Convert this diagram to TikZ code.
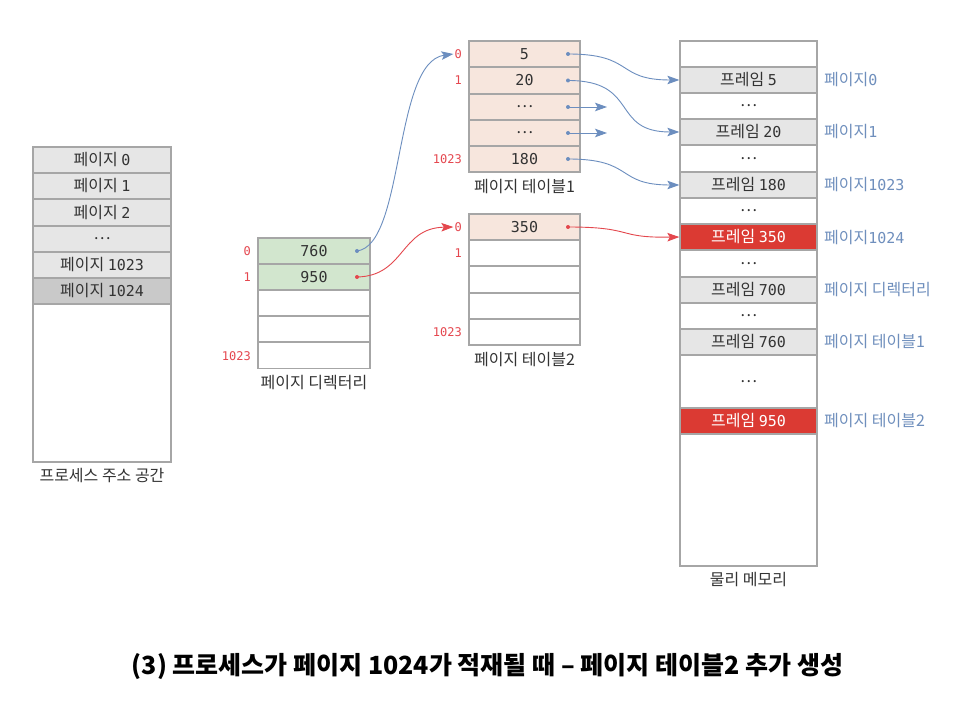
\documentclass[tikz,border=0pt]{standalone}
\usepackage{fontspec}
\setmainfont{Noto Sans CJK KR}
\newfontfamily\monofont{DejaVu Sans Mono}
\newcommand\dg[1]{{\monofont\fontsize{15}{17}\selectfont #1}}
\usetikzlibrary{arrows.meta}
\definecolor{bd}{HTML}{A6A6A6}
\definecolor{gfill}{HTML}{E6E6E6}
\definecolor{dgfill}{HTML}{C9C9C9}
\definecolor{grfill}{HTML}{D2E6CE}
\definecolor{pkfill}{HTML}{F7E6DD}
\definecolor{rdfill}{HTML}{DB3A33}
\definecolor{txt}{HTML}{333333}
\definecolor{bluearr}{HTML}{6C8EBF}
\definecolor{redarr}{HTML}{E4474D}
\definecolor{idxred}{HTML}{E5474F}
\definecolor{lblblue}{HTML}{6F8FBD}
\tikzset{
  cell/.style={draw=bd, line width=1.3pt, minimum height=26pt, inner sep=0pt, text=txt, font=\fontsize{16}{18}\selectfont},
  frame/.style={draw=bd, line width=1.3pt, inner sep=0pt},
  gcell/.style={cell, fill=gfill},
  dcell/.style={cell, fill=dgfill},
  grcell/.style={cell, fill=grfill, minimum width=112pt},
  pkcell/.style={cell, fill=pkfill, minimum width=111pt},
  wcell/.style={cell, fill=white},
  rcell/.style={cell, fill=rdfill, text=white},
  idx/.style={text=idxred, font=\monofont\fontsize{12}{14}\selectfont, inner sep=1pt, anchor=east},
  caption/.style={text=txt, font=\fontsize{16}{18}\selectfont, inner sep=0pt},
  side/.style={text=lblblue, font=\fontsize{16}{18}\selectfont, inner sep=0pt, anchor=west},
  barrow/.style={draw=bluearr, line width=0.9pt, -{Stealth[length=12pt,width=8.5pt,inset=2.5pt]}},
  rarrow/.style={draw=redarr, line width=0.9pt, -{Stealth[length=12pt,width=8.5pt,inset=2.5pt]}},
}
\begin{document}
\begin{tikzpicture}[x=1pt,y=-1pt]
\useasboundingbox[fill=white] (0,0) rectangle (953,703);

% ---------- process address space ----------
\node[frame, minimum width=138pt, minimum height=315pt] (pas) at (102,304.5) {};
\node[gcell, minimum width=138pt] (p0) at (102,160) {페이지 \dg{0}};
\node[gcell, minimum width=138pt] (p1) at (102,186) {페이지 \dg{1}};
\node[gcell, minimum width=138pt] (p2) at (102,212.5) {페이지 \dg{2}};
\node[gcell, minimum width=138pt] (pd) at (102,239) {…};
\node[gcell, minimum width=138pt] (p1023) at (102,265) {페이지 \dg{1023}};
\node[dcell, minimum width=138pt] (p1024) at (102,291) {페이지 \dg{1024}};
\node[caption] (pascap) at (102,476) {프로세스 주소 공간};

% ---------- page directory ----------
\node[grcell] (d0) at (314,251) {\dg{760}};
\node[grcell] (d1) at (314,277) {\dg{950}};
\node[wcell, minimum width=112pt] (d2) at (314,303) {};
\node[wcell, minimum width=112pt] (d3) at (314,329) {};
\node[wcell, minimum width=112pt] (d4) at (314,355.5) {};
\node[idx] (di0) at (252,251) {0};
\node[idx] (di1) at (252,277) {1};
\node[idx] (di1023) at (252,356) {1023};
\node[caption] (dcap) at (314,383) {페이지 디렉터리};

% ---------- page table 1 ----------
\node[pkcell] (a0) at (524.5,54) {\dg{5}};
\node[pkcell] (a1) at (524.5,80.5) {\dg{20}};
\node[pkcell] (a2) at (524.5,107) {…};
\node[pkcell] (a3) at (524.5,133) {…};
\node[pkcell] (a4) at (524.5,159) {\dg{180}};
\node[idx] (ai0) at (463,54) {0};
\node[idx] (ai1) at (463,80) {1};
\node[idx] (ai1023) at (463,159) {1023};
\node[caption] (acap) at (524.5,187) {페이지 테이블1};

% ---------- page table 2 ----------
\node[pkcell] (b0) at (524.5,227) {\dg{350}};
\node[wcell, minimum width=111pt] (b1) at (524.5,253) {};
\node[wcell, minimum width=111pt] (b2) at (524.5,279.5) {};
\node[wcell, minimum width=111pt] (b3) at (524.5,306) {};
\node[wcell, minimum width=111pt] (b4) at (524.5,332) {};
\node[idx] (bi0) at (463,227) {0};
\node[idx] (bi1) at (463,253) {1};
\node[idx] (bi1023) at (463,332) {1023};
\node[caption] (bcap) at (524.5,360) {페이지 테이블2};

% ---------- physical memory ----------
\node[frame, minimum width=137pt, minimum height=525pt] (pm) at (748.5,303.5) {};
\node[wcell, minimum width=137pt] (m0) at (748.5,54) {};
\node[gcell, minimum width=137pt] (m1) at (748.5,80) {프레임 \dg{5}};
\node[wcell, minimum width=137pt] (m2) at (748.5,106) {…};
\node[gcell, minimum width=137pt] (m3) at (748.5,132) {프레임 \dg{20}};
\node[wcell, minimum width=137pt] (m4) at (748.5,158.5) {…};
\node[gcell, minimum width=137pt] (m5) at (748.5,185) {프레임 \dg{180}};
\node[wcell, minimum width=137pt] (m6) at (748.5,211) {…};
\node[rcell, minimum width=137pt] (m7) at (748.5,237) {프레임 \dg{350}};
\node[wcell, minimum width=137pt] (m8) at (748.5,263.5) {…};
\node[gcell, minimum width=137pt] (m9) at (748.5,290) {프레임 \dg{700}};
\node[wcell, minimum width=137pt] (m10) at (748.5,316) {…};
\node[gcell, minimum width=137pt] (m11) at (748.5,342) {프레임 \dg{760}};
\node[wcell, minimum width=137pt, minimum height=53pt] (m12) at (748.5,381.5) {…};
\node[rcell, minimum width=137pt] (m13) at (748.5,421) {프레임 \dg{950}};
\node[caption] (pmcap) at (748.5,580) {물리 메모리};

\node[side] (s1) at (824,80) {페이지\dg{0}};
\node[side] (s3) at (824,132) {페이지\dg{1}};
\node[side] (s5) at (824,185) {페이지\dg{1023}};
\node[side] (s7) at (824,238) {페이지\dg{1024}};
\node[side] (s9) at (824,290) {페이지 디렉터리};
\node[side] (s11) at (824,342) {페이지 테이블1};
\node[side] (s13) at (824,421) {페이지 테이블2};

% ---------- dots ----------
\coordinate (cd0) at (357,251);
\coordinate (cd1) at (357,277);
\coordinate (ca0) at (568,54);
\coordinate (ca1) at (568,80.5);
\coordinate (ca2) at (568,107);
\coordinate (ca3) at (568,133);
\coordinate (ca4) at (568,159);
\coordinate (cb0) at (568,227);
\coordinate (e2) at (607,107);
\coordinate (e3) at (607,133);
\foreach \c in {cd0,ca0,ca1,ca2,ca3,ca4} \fill[bluearr] (\c) circle (2pt);
\foreach \c in {cd1,cb0} \fill[redarr] (\c) circle (2pt);

% ---------- connectors ----------
\draw[barrow] (cd0) .. controls (405,245) and (393,62) .. (ai0.west);
\draw[rarrow] (cd1) .. controls (405,276) and (400,228) .. (bi0.west);
\draw[barrow] (ca0) .. controls (635,54) and (615,80) .. (m1.west);
\draw[barrow] (ca1) .. controls (640,80.5) and (610,132) .. (m3.west);
\draw[barrow] (ca4) .. controls (635,159) and (615,185) .. (m5.west);
\draw[barrow] (ca2) -- (e2);
\draw[barrow] (ca3) -- (e3);
\draw[rarrow] (cb0) .. controls (635,227) and (615,238) .. (m7.west);

% ---------- title ----------
\node[font=\bfseries\fontsize{25}{29}\selectfont, text=black, inner sep=0pt] (title) at (487.5,666) {(3) 프로세스가 페이지 1024가 적재될 때 – 페이지 테이블2 추가 생성};
\end{tikzpicture}
\end{document}
